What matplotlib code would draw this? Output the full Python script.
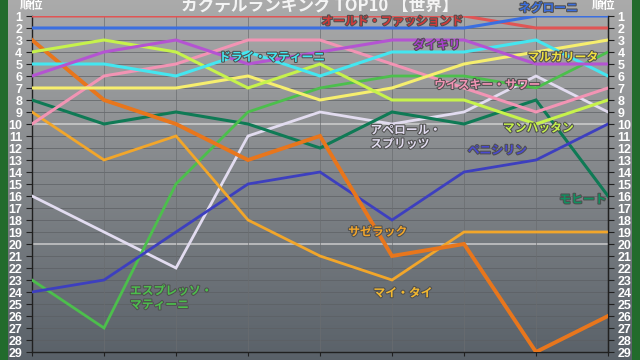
import numpy as np
import matplotlib
matplotlib.use("Agg")
import matplotlib.pyplot as plt
import matplotlib.patheffects as pe
from matplotlib.patches import Rectangle

plt.rcParams['font.family'] = ['Noto Sans CJK JP', 'DejaVu Sans']

# 9 periods, ranks per cocktail
periods = list(range(9))
old_fashioned = [1, 1, 1, 1, 1, 1, 1, 2, 2]
negroni = [2, 2, 2, 2, 2, 2, 2, 1, 1]
daiquiri = [6, 4, 3, 5, 4, 3, 3, 5, 5]
margarita = [7, 7, 7, 6, 8, 7, 5, 4, 3]
dry_martini = [5, 5, 6, 4, 6, 4, 4, 3, 6]
whisky_sour = [10, 6, 5, 3, 3, 5, 7, 9, 7]
manhattan = [4, 3, 4, 7, 5, 8, 8, 10, 8]
aperol = [16, 19, 22, 11, 9, 10, 9, 6, 9]
penicillin = [24, 23, 19, 15, 14, 18, 14, 13, 10]
mojito = [8, 10, 9, 10, 12, 9, 10, 8, 16]
sazerac = [9, 13, 11, 18, 21, 23, 19, 19, 19]
mai_tai = [3, 8, 10, 13, 11, 21, 20, 29, 26]
espresso = [23, 27, 15, 9, 7, 6, 6, 7, 4]

rank_ticks = list(range(1, 30))

W, H = 640, 360
fig = plt.figure(figsize=(6.4, 3.6), dpi=100)

# gradient background
bg = fig.add_axes([0, 0, 1, 1], zorder=-5)
top = np.array([0.67, 0.67, 0.67])
bot = np.array([0.35, 0.38, 0.41])
t = np.linspace(0, 1, 256)[:, None]
grad = top * (1 - t) + bot * t
bg.imshow(grad[:, None, :].repeat(2, axis=1), aspect='auto', extent=[0, 1, 0, 1])
bg.axis('off')

# green frame
fig.patches.append(Rectangle((0, 0), 8 / W, 1, transform=fig.transFigure,
                             facecolor='#226b2c', edgecolor='none', zorder=10))
fig.patches.append(Rectangle((632 / W, 0), 8 / W, 1, transform=fig.transFigure,
                             facecolor='#226b2c', edgecolor='none', zorder=10))

x0, x1 = 32 / W, 608 / W
y_bot, y_top = (H - 352) / H, (H - 16) / H
ax = fig.add_axes([x0, y_bot, x1 - x0, y_top - y_bot])
ax.patch.set_alpha(0)
ax.set_xlim(0, 8)
ax.set_ylim(29, 1)

# grid
for r in rank_ticks:
    c = '#d8d8d8' if r in (10, 20) else '#5c5f63'
    lw = 1.2 if r in (10, 20) else 0.6
    ax.axhline(r, color=c, lw=lw, alpha=0.8, zorder=1)
for p in periods:
    ax.axvline(p, color='#6a6d70', lw=0.6, alpha=0.8, zorder=1)

series = [
    (old_fashioned, '#e05555', 2.2),
    (negroni, '#3b6fe0', 2.2),
    (aperol, '#e2dcf0', 2.0),
    (mojito, '#0f7a55', 2.2),
    (espresso, '#4cbf4c', 2.0),
    (penicillin, '#3d3fbf', 2.0),
    (sazerac, '#f2a62a', 2.0),
    (mai_tai, '#e8761c', 2.8),
    (whisky_sour, '#f294b4', 2.2),
    (margarita, '#f6ee6e', 2.2),
    (manhattan, '#c6f24c', 2.2),
    (dry_martini, '#44e6f0', 2.2),
    (daiquiri, '#b454d2', 2.2),
]
for vals, col, lw in series:
    ax.plot(periods, vals, color=col, lw=lw, zorder=3, solid_joinstyle='miter')

ax.spines['top'].set_visible(False)
for s in ['left', 'right', 'bottom']:
    ax.spines[s].set_color('#202020')
    ax.spines[s].set_linewidth(1.0)

tick_font = dict(color='white', fontsize=9, fontweight='bold', family='Liberation Sans')
ax.set_xticks(periods)
ax.set_xticklabels([])
ax.tick_params(axis='x', length=3, color='#202020')
ax.set_yticks(rank_ticks)
ax.set_yticklabels([str(r) for r in rank_ticks], **tick_font)
ax.tick_params(axis='y', length=4, color='#202020', pad=3)
ax2 = ax.twinx()
ax2.set_ylim(29, 1)
ax2.set_yticks(rank_ticks)
ax2.set_yticklabels([str(r) for r in rank_ticks], **tick_font)
ax2.tick_params(axis='y', length=4, color='#202020', pad=3)
for s in ['top', 'left', 'bottom']:
    ax2.spines[s].set_visible(False)
ax2.spines['right'].set_color('#202020')

# series labels
labels = [
    ('オールド・ファッションド', 5.0, 1.45, '#d43a3a', 'center'),
    ('ネグローニ', 7.17, 0.35, '#3b6fe0', 'center'),
    ('ダイキリ', 5.62, 3.45, '#a840cc', 'center'),
    ('マルガリータ', 7.37, 4.45, '#f0e040', 'center'),
    ('ドライ・マティーニ', 3.33, 4.45, '#44e6f0', 'center'),
    ('ウイスキー・サワー', 6.32, 6.75, '#f294b4', 'center'),
    ('マンハッタン', 7.03, 10.35, '#c6f24c', 'center'),
    ('アペロール・\nスプリッツ', 4.7, 11.1, '#e2dcf0', 'left'),
    ('ペニシリン', 6.46, 12.2, '#4a4ad0', 'center'),
    ('モヒート', 7.65, 16.3, '#109060', 'center'),
    ('サゼラック', 4.8, 19.0, '#f2a62a', 'center'),
    ('マイ・タイ', 5.15, 24.1, '#f2b830', 'center'),
    ('エスプレッソ・\nマティーニ', 1.36, 24.5, '#4cbf4c', 'left'),
]
for txt, lx, ly, col, ha in labels:
    ax.text(lx, ly, txt, color=col, fontsize=8.5, fontweight='bold', ha=ha,
            va='center', linespacing=1.1, zorder=5, clip_on=False,
            path_effects=[pe.withStroke(linewidth=1.5, foreground='#505050')])

fig.text(0.5, 1 - 6 / H, 'カクテルランキング TOP10 【世界】', color='#f4f4f4',
         fontsize=12, fontweight='bold', ha='center', va='center')
fig.text(31 / W, 1 - 6 / H, '順位', color='white', fontsize=8.5,
         fontweight='bold', ha='center', va='center')
fig.text(603 / W, 1 - 6 / H, '順位', color='white', fontsize=8.5,
         fontweight='bold', ha='center', va='center')

fig.savefig('out.png', dpi=100)
